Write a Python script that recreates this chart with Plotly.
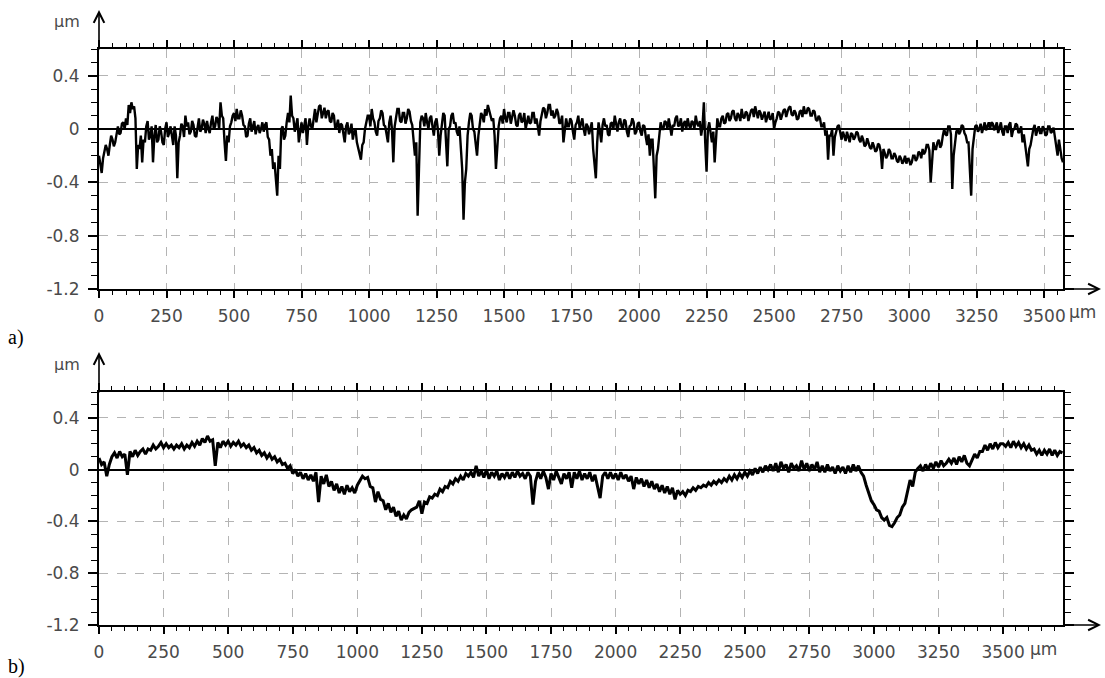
import numpy as np
import plotly.graph_objects as go

# ---------------- data ----------------
STEP_A_UM = 5    # sampling step of profile a (µm)
STEP_B_UM = 10   # sampling step of profile b (µm)

profile_a = [
    -0.20, -0.26, -0.33, -0.22, -0.18, -0.12, -0.15, -0.20, -0.12, -0.05, -0.08, -0.13, -0.10, -0.02, 0.02, -0.04, -0.03, 0.04, 0.05, 0.00,
    0.08, 0.03, 0.18, 0.12, 0.20, 0.15, 0.17, 0.08, -0.30, -0.12, -0.15, -0.05, -0.25, -0.08, -0.10, 0.02, 0.06, -0.08, -0.05, 0.02,
    -0.25, -0.05, 0.03, -0.10, -0.08, 0.02, -0.02, -0.10, -0.12, 0.00, 0.05, -0.06, -0.03, 0.02, -0.06, -0.12, 0.02, -0.05, -0.37, -0.10,
    -0.05, 0.04, 0.02, -0.06, 0.10, 0.02, 0.05, -0.04, -0.02, 0.06, 0.03, -0.05, -0.06, 0.02, 0.08, -0.02, 0.00, 0.07, 0.04, -0.03,
    0.06, 0.00, -0.03, 0.05, 0.10, 0.00, 0.02, 0.09, 0.07, 0.00, 0.20, 0.10, 0.08, -0.10, -0.24, -0.05, -0.10, 0.02, 0.05, 0.10,
    0.12, 0.06, 0.15, 0.08, 0.08, 0.14, 0.10, 0.03, 0.02, -0.06, -0.05, 0.04, 0.08, -0.02, 0.02, 0.06, -0.04, 0.01, 0.03, -0.03,
    0.00, 0.05, -0.02, 0.03, 0.05, -0.06, -0.08, -0.20, -0.15, -0.30, -0.25, -0.42, -0.50, -0.20, -0.30, 0.00, 0.02, -0.08, -0.05, 0.05,
    0.12, 0.05, 0.25, 0.10, 0.08, -0.02, 0.02, 0.08, -0.10, 0.00, 0.05, -0.03, 0.03, 0.08, -0.12, 0.02, 0.08, 0.02, 0.00, 0.10,
    0.15, 0.05, 0.10, 0.17, 0.18, 0.08, 0.12, 0.16, 0.08, 0.13, 0.14, 0.06, 0.05, 0.12, 0.10, 0.00, 0.02, 0.07, -0.03, 0.04,
    0.03, -0.05, -0.10, 0.02, 0.05, -0.04, -0.02, 0.04, -0.08, -0.02, 0.00, -0.10, -0.15, -0.20, -0.23, -0.12, -0.10, 0.00, 0.05, 0.10,
    0.10, 0.02, 0.15, 0.08, 0.05, -0.02, -0.05, 0.06, 0.08, 0.14, 0.12, 0.03, 0.02, -0.06, -0.10, 0.05, 0.10, 0.00, -0.25, 0.02,
    0.10, 0.15, 0.15, 0.06, 0.05, 0.12, 0.12, 0.04, 0.08, 0.15, 0.13, 0.06, 0.03, -0.08, -0.20, -0.10, -0.65, -0.30, 0.05, 0.10,
    0.08, 0.02, 0.12, 0.05, 0.00, 0.08, 0.10, 0.02, -0.05, 0.05, 0.08, 0.00, -0.20, -0.05, 0.05, 0.12, 0.10, -0.05, -0.28, 0.00,
    0.02, 0.10, 0.12, 0.04, 0.05, -0.02, -0.05, 0.02, -0.15, -0.30, -0.68, -0.40, -0.30, -0.05, 0.05, 0.12, 0.10, 0.00, -0.02, -0.10,
    -0.20, -0.05, 0.05, 0.12, 0.10, 0.05, 0.15, 0.10, 0.18, 0.14, 0.12, 0.06, 0.08, -0.05, -0.30, -0.10, 0.02, 0.08, 0.10, 0.04,
    0.15, 0.08, 0.05, 0.12, 0.12, 0.04, 0.08, 0.14, 0.10, 0.03, 0.02, 0.10, 0.12, 0.05, 0.06, 0.12, 0.00, 0.05, 0.10, 0.04,
    0.05, 0.12, 0.12, 0.04, 0.08, 0.02, -0.05, 0.06, 0.10, 0.16, 0.15, 0.08, 0.12, 0.18, 0.18, 0.10, 0.14, 0.08, 0.10, 0.15,
    0.12, 0.04, 0.05, 0.10, -0.10, 0.00, 0.08, 0.02, 0.02, 0.08, 0.06, -0.02, -0.08, 0.03, 0.05, 0.10, 0.00, 0.04, 0.08, 0.00,
    -0.05, 0.04, 0.02, -0.04, 0.00, 0.05, -0.15, -0.25, -0.37, -0.10, 0.05, -0.02, -0.10, 0.03, 0.08, 0.02, 0.03, -0.04, -0.05, 0.04,
    0.05, 0.00, 0.10, 0.04, -0.02, 0.05, 0.08, 0.02, 0.00, 0.07, 0.06, -0.02, -0.06, 0.02, 0.03, 0.08, 0.05, -0.04, -0.02, 0.04,
    0.05, -0.02, -0.05, 0.03, 0.02, -0.06, -0.12, -0.04, -0.20, -0.08, -0.08, -0.30, -0.52, -0.20, -0.15, -0.05, 0.05, 0.00, 0.00, 0.06,
    0.05, 0.00, 0.08, 0.02, -0.05, 0.03, 0.02, 0.08, 0.10, 0.02, 0.03, 0.08, -0.02, 0.04, 0.06, 0.00, 0.08, 0.03, 0.00, 0.06,
    0.05, 0.00, 0.10, 0.04, 0.02, 0.06, -0.05, 0.02, 0.20, -0.10, -0.32, 0.00, 0.05, -0.03, -0.10, -0.02, -0.25, -0.08, 0.08, 0.02,
    0.02, 0.08, 0.10, 0.04, 0.05, 0.11, 0.12, 0.06, 0.08, 0.13, 0.14, 0.08, 0.06, 0.12, 0.10, 0.06, 0.15, 0.09, 0.08, 0.13,
    0.12, 0.06, 0.10, 0.14, 0.15, 0.09, 0.17, 0.11, 0.08, 0.14, 0.12, 0.07, 0.10, 0.13, 0.05, 0.10, 0.13, 0.07, 0.08, 0.12,
    0.00, 0.05, 0.08, 0.13, 0.12, 0.07, 0.10, 0.14, 0.15, 0.09, 0.13, 0.16, 0.17, 0.11, 0.10, 0.14, 0.12, 0.07, 0.08, 0.13,
    0.14, 0.09, 0.17, 0.12, 0.12, 0.16, 0.15, 0.10, 0.10, 0.14, 0.13, 0.07, 0.06, 0.10, 0.08, 0.02, 0.02, 0.05, -0.05, -0.01,
    -0.23, -0.05, -0.05, 0.00, -0.20, -0.06, -0.02, 0.02, 0.03, -0.04, -0.08, -0.02, -0.05, -0.09, -0.02, -0.07, -0.10, -0.03, -0.04, -0.08,
    -0.06, -0.02, -0.03, -0.08, -0.10, -0.05, -0.08, -0.13, -0.12, -0.07, -0.10, -0.14, -0.15, -0.10, -0.13, -0.17, -0.16, -0.11, -0.12, -0.17,
    -0.30, -0.15, -0.18, -0.22, -0.20, -0.15, -0.17, -0.22, -0.22, -0.18, -0.20, -0.24, -0.25, -0.20, -0.22, -0.26, -0.24, -0.20, -0.26, -0.22,
    -0.23, -0.27, -0.25, -0.20, -0.20, -0.24, -0.22, -0.17, -0.18, -0.22, -0.15, -0.19, -0.17, -0.12, -0.12, -0.16, -0.40, -0.20, -0.10, -0.15,
    -0.15, -0.10, -0.08, -0.14, -0.12, -0.05, 0.00, -0.04, -0.05, 0.02, 0.02, -0.04, -0.45, -0.20, -0.10, -0.02, 0.00, -0.04, -0.02, 0.03,
    0.02, -0.03, -0.05, -0.10, -0.10, -0.30, -0.50, -0.15, -0.05, 0.02, 0.03, -0.02, 0.00, 0.04, -0.03, 0.02, 0.05, -0.01, 0.02, 0.05,
    0.00, 0.05, 0.04, -0.01, 0.02, 0.05, -0.03, 0.02, 0.05, -0.02, -0.05, 0.02, 0.02, -0.03, 0.03, 0.05, -0.06, -0.01, 0.00, 0.04,
    0.03, -0.03, -0.02, 0.02, -0.10, -0.04, -0.15, -0.20, -0.28, -0.15, -0.12, -0.04, 0.00, 0.03, -0.05, -0.01, 0.02, -0.03, -0.03, 0.02,
    0.00, -0.05, -0.04, 0.02, 0.02, -0.03, -0.02, 0.01, -0.06, -0.10, -0.20, -0.08, -0.15, -0.22, -0.25,
]

profile_b = [
    0.09, 0.04, 0.06, -0.05, 0.04, 0.10, 0.13, 0.09, 0.14, 0.10,
    0.12, -0.04, 0.14, 0.10, 0.15, 0.11, 0.14, 0.16, 0.12, 0.16,
    0.15, 0.19, 0.16, 0.18, 0.21, 0.17, 0.20, 0.17, 0.19, 0.16,
    0.19, 0.17, 0.20, 0.16, 0.19, 0.17, 0.21, 0.18, 0.22, 0.19,
    0.24, 0.21, 0.26, 0.22, 0.23, 0.03, 0.21, 0.17, 0.22, 0.19,
    0.22, 0.18, 0.21, 0.19, 0.22, 0.18, 0.20, 0.17, 0.19, 0.15,
    0.17, 0.13, 0.15, 0.11, 0.13, 0.09, 0.12, 0.08, 0.10, 0.06,
    0.08, 0.04, 0.05, 0.01, 0.03, -0.03, 0.00, -0.05, -0.02, -0.07,
    -0.03, -0.08, -0.04, -0.09, -0.02, -0.25, -0.05, -0.11, -0.04, -0.13,
    -0.09, -0.16, -0.11, -0.18, -0.13, -0.19, -0.12, -0.17, -0.14, -0.18,
    -0.12, -0.09, -0.05, -0.07, -0.06, -0.13, -0.14, -0.25, -0.17, -0.23,
    -0.24, -0.31, -0.26, -0.33, -0.29, -0.36, -0.32, -0.39, -0.35, -0.38,
    -0.33, -0.31, -0.30, -0.29, -0.24, -0.34, -0.25, -0.26, -0.21, -0.22,
    -0.19, -0.20, -0.15, -0.17, -0.13, -0.14, -0.09, -0.11, -0.07, -0.09,
    -0.05, -0.08, -0.03, -0.05, -0.02, -0.06, 0.03, -0.05, -0.01, -0.06,
    0.00, -0.07, -0.02, -0.05, -0.01, -0.08, -0.03, -0.06, -0.02, -0.07,
    -0.02, -0.06, -0.01, -0.05, -0.03, -0.07, -0.02, -0.05, -0.27, -0.09,
    -0.02, -0.07, -0.01, -0.06, -0.15, -0.03, -0.08, -0.01, -0.06, -0.11,
    -0.03, -0.07, -0.02, -0.14, -0.02, -0.07, -0.01, -0.08, -0.03, -0.07,
    -0.02, -0.09, -0.04, -0.13, -0.22, -0.05, -0.02, -0.07, -0.02, -0.07,
    -0.03, -0.08, -0.02, -0.07, -0.04, -0.09, -0.05, -0.15, -0.06, -0.11,
    -0.07, -0.13, -0.08, -0.14, -0.09, -0.15, -0.11, -0.17, -0.12, -0.18,
    -0.13, -0.19, -0.14, -0.23, -0.16, -0.19, -0.17, -0.20, -0.16, -0.17,
    -0.14, -0.16, -0.13, -0.14, -0.12, -0.13, -0.10, -0.12, -0.09, -0.11,
    -0.08, -0.10, -0.07, -0.09, -0.05, -0.08, -0.04, -0.07, -0.03, -0.06,
    -0.02, -0.05, -0.01, -0.04, 0.01, -0.03, 0.02, -0.02, 0.03, 0.00,
    0.04, -0.01, 0.05, -0.02, 0.06, 0.01, 0.04, -0.02, 0.05, 0.01,
    0.03, -0.01, 0.07, 0.00, 0.05, -0.01, 0.04, 0.00, 0.06, -0.02,
    0.03, -0.02, 0.04, -0.01, 0.02, -0.03, 0.03, -0.01, 0.02, -0.03,
    0.03, -0.02, 0.04, -0.01, 0.03, -0.02, -0.05, -0.12, -0.18, -0.24,
    -0.27, -0.31, -0.32, -0.37, -0.39, -0.37, -0.43, -0.44, -0.41, -0.37,
    -0.35, -0.29, -0.26, -0.17, -0.08, -0.13, -0.02, 0.01, 0.03, -0.01,
    0.04, 0.00, 0.05, 0.01, 0.06, 0.02, 0.07, 0.03, 0.05, 0.08,
    0.05, 0.09, 0.04, 0.10, 0.06, 0.11, 0.05, 0.03, 0.08, 0.12,
    0.09, 0.14, 0.14, 0.19, 0.15, 0.20, 0.16, 0.21, 0.17, 0.20,
    0.20, 0.18, 0.21, 0.17, 0.22, 0.18, 0.21, 0.17, 0.20, 0.16,
    0.19, 0.15, 0.16, 0.12, 0.15, 0.11, 0.15, 0.12, 0.16, 0.11,
    0.15, 0.11, 0.14, 0.13,
]

x_tick_vals = [0, 250, 500, 750, 1000, 1250, 1500, 1750, 2000, 2250, 2500, 2750, 3000, 3250, 3500]
x_tick_text = ["0", "250", "500", "750", "1000", "1250", "1500", "1750", "2000", "2250",
               "2500", "2750", "3000", "3250", "3500"]
y_tick_vals = [-1.2, -0.8, -0.4, 0, 0.4]
y_tick_text = ["-1.2", "-0.8", "-0.4", "0", "0.4"]
unit_label = "µm"
panel_labels = ["a)", "b)"]

x_range_a = [0, 3570]
x_range_b = [0, 3732]
y_range = [-1.2, 0.6]

# ---------------- figure ----------------
W, H = 1105, 678
def px(x):
    return x / W
def py(y):
    return 1 - y / H

xa = np.arange(len(profile_a)) * STEP_A_UM
xb = np.arange(len(profile_b)) * STEP_B_UM

fig = go.Figure()
fig.add_trace(go.Scatter(x=xa, y=profile_a, mode="lines", line=dict(color="black", width=2.4),
                         xaxis="x", yaxis="y", showlegend=False, hoverinfo="skip"))
fig.add_trace(go.Scatter(x=xb, y=profile_b, mode="lines", line=dict(color="black", width=3.0),
                         xaxis="x2", yaxis="y2", showlegend=False, hoverinfo="skip"))

tick_font = dict(family="DejaVu Sans", size=17, color="#4a4a4a")

def xaxis_cfg(rng, anchor):
    return dict(
        domain=[px(99), px(1063)], range=rng, anchor=anchor, automargin=False,
        tickvals=x_tick_vals, ticktext=x_tick_text, tickfont=tick_font,
        ticks="outside", ticklen=7, tickwidth=1.5, tickcolor="black",
        minor=dict(dtick=50, tick0=0, ticks="outside", ticklen=4, tickwidth=1.2, tickcolor="black",
                   showgrid=False),
        showline=True, linecolor="black", linewidth=2, mirror="allticks",
        showgrid=True, gridcolor="#b4b4b4", griddash="dash", gridwidth=1,
        zeroline=False, ticklabelstandoff=4,
    )

def yaxis_cfg(dom, anchor):
    return dict(
        domain=dom, range=y_range, anchor=anchor, automargin=False,
        tickvals=y_tick_vals, ticktext=y_tick_text, tickfont=tick_font,
        ticks="outside", ticklen=9, tickwidth=1.5, tickcolor="black",
        minor=dict(dtick=0.1, tick0=0, ticks="outside", ticklen=6, tickwidth=1.2, tickcolor="black",
                   showgrid=False),
        showline=True, linecolor="black", linewidth=2, mirror="allticks",
        showgrid=True, gridcolor="#b4b4b4", griddash="dash", gridwidth=1,
        zeroline=True, zerolinecolor="black", zerolinewidth=1.5,
        ticklabelstandoff=5,
    )

fig.update_layout(
    width=W, height=H,
    margin=dict(l=0, r=0, t=0, b=0, autoexpand=False),
    paper_bgcolor="white", plot_bgcolor="white",
    xaxis=xaxis_cfg(x_range_a, "y"),
    yaxis=yaxis_cfg([py(289), py(49)], "x"),
    xaxis2=xaxis_cfg(x_range_b, "y2"),
    yaxis2=yaxis_cfg([py(625), py(392)], "x2"),
)

annotations = []
# axis arrows
for (ytop, ytip, ybot) in [(49, 10, 289), (392, 352, 625)]:
    annotations.append(dict(x=px(99), y=py(ytip), xref="paper", yref="paper",
                            ax=0, ay=ytop - ytip + 2,
                            text="", showarrow=True, arrowhead=5, arrowsize=1.3,
                            arrowwidth=1.6, arrowcolor="black"))
    annotations.append(dict(x=px(1101), y=py(ybot), xref="paper", yref="paper",
                            ax=-(1101 - 1062), ay=0,
                            text="", showarrow=True, arrowhead=5, arrowsize=1.3,
                            arrowwidth=1.6, arrowcolor="black"))
# unit labels
for (xu, yu) in [(67, 21), (67, 364)]:
    annotations.append(dict(x=px(xu), y=py(yu), xref="paper", yref="paper", text=unit_label,
                            showarrow=False, font=dict(family="DejaVu Sans", size=16, color="#4a4a4a"),
                            xanchor="center", yanchor="middle"))
for (xu, yu) in [(1067, 312), (1028, 649)]:
    annotations.append(dict(x=px(xu), y=py(yu), xref="paper", yref="paper", text=unit_label,
                            showarrow=False, font=dict(family="DejaVu Sans", size=17, color="#4a4a4a"),
                            xanchor="left", yanchor="middle"))
# panel labels
for lab, yl in zip(panel_labels, [337, 666]):
    annotations.append(dict(x=px(6), y=py(yl), xref="paper", yref="paper", text=lab,
                            showarrow=False, font=dict(family="Liberation Serif", size=20, color="black"),
                            xanchor="left", yanchor="middle"))

fig.update_layout(annotations=annotations)

fig.write_html("out.html")
